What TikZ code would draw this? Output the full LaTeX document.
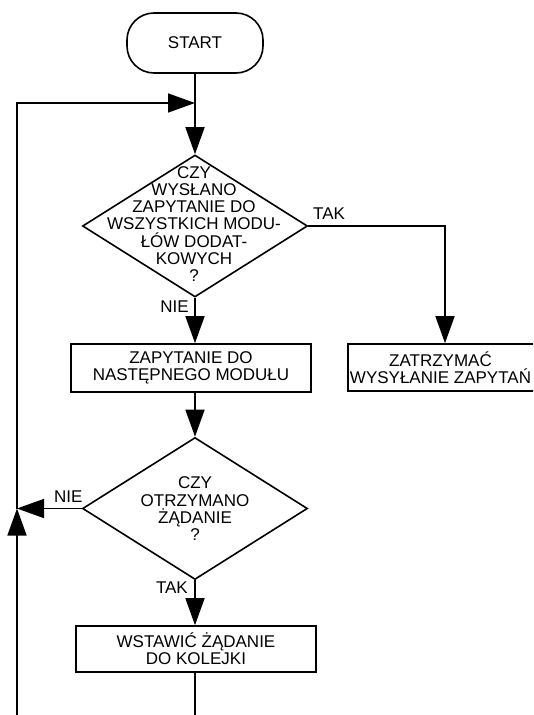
\documentclass[tikz,border=0pt]{standalone}
\usepackage{fontspec}
\setmainfont{Liberation Sans}
\usetikzlibrary{arrows.meta,shapes.geometric}
\begin{document}
\begin{tikzpicture}[x=1pt,y=-1pt,
  every node/.style={font=\fontsize{17}{17.3}\selectfont},
  line/.style={line width=1.6pt},
  arr/.style={line, -{Triangle[length=27pt,width=19pt]}},
  box/.style={draw, line width=1.6pt, minimum width=240pt, minimum height=47pt,
              inner sep=0pt, align=center},
  term/.style={draw, line width=1.6pt, rounded corners=27pt,
               minimum width=136pt, minimum height=60pt},
  dia/.style={draw, diamond, line width=1.6pt, minimum width=225pt,
              minimum height=142pt, inner sep=0pt},
  txt/.style={align=center, inner sep=0pt},
  lbl/.style={inner sep=0pt}
]
\path[use as bounding box] (0,0) rectangle (533,715);
\clip (0,0) rectangle (533,715);

% terminal and first decision
\node[term] (start) at (195,43) {START};
\node[dia] (d1) at (195,226) {};
\node[txt] (d1t) at (194,224) {CZY\\WYSŁANO\\ZAPYTANIE DO\\WSZYSTKICH MODU-\\ŁÓW DODAT-\\KOWYCH\\?};

% process boxes
\node[box, minimum height=48pt] (b1) at (191,368) {ZAPYTANIE DO\\NASTĘPNEGO MODUŁU};
\node[box, minimum width=194pt] (b2) at (445,367.5) {};
\node[txt] (b2t) at (440.5,368) {ZATRZYMAĆ\\WYSYŁANIE ZAPYTAŃ};

% second decision
\node[dia] (d2) at (195,508.5) {};
\node[txt] (d2t) at (195,509) {CZY\\OTRZYMANO\\ŻĄDANIE\\?};

\node[box, minimum height=46pt] (b3) at (196,649) {WSTAWIĆ ŻĄDANIE\\DO KOLEJKI};

% branch labels
\node[lbl, anchor=base east] (nie1) at (189,312) {NIE};
\node[lbl, anchor=base west] (tak1) at (313,219) {TAK};
\node[lbl, anchor=base west] (nie2) at (54,502) {NIE};
\node[lbl, anchor=base east] (tak2) at (188,593) {TAK};

% junctions of the return loop
\coordinate (jtop) at (195,103);
\coordinate (jleft) at (17,508.5);
\coordinate (lbot) at (17,716);
\coordinate (mbot) at (195,716);

% connectors
\draw[arr] (start.south) -- (d1.north);
\draw[arr] (d1.south) -- (d1.south |- b1.north);
\draw[arr] (d1.east) -| (b2.north);
\draw[arr] (b1.south -| d2.north) -- (d2.north);
\draw[arr] (d2.west) -- (jleft);
\draw[arr] (d2.south) -- (d2.south |- b3.north);
\draw[line] (b3.south -| d2.south) -- (mbot);
\draw[arr] (lbot) -- (jleft);
\draw[arr] (jleft) |- (jtop);
\end{tikzpicture}
\end{document}
